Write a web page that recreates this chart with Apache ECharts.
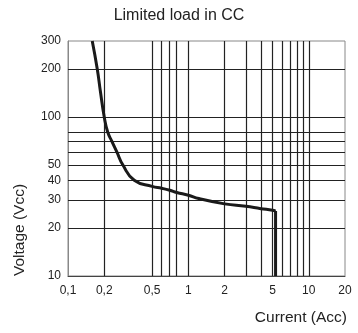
<!DOCTYPE html>
<html>
<head>
<meta charset="utf-8">
<script src="https://cdn.jsdelivr.net/npm/echarts@6/dist/echarts.min.js"></script>
<style>
  html, body { margin: 0; padding: 0; background: #fff; }
  #chart { width: 358px; height: 333px; }
</style>
</head>
<body>
<div id="chart"></div>
<script>
// curve (current in A, voltage in V)
const currentA = [0.159, 0.175, 0.186, 0.2, 0.214, 0.232, 0.255, 0.285, 0.355, 0.5, 0.6, 0.7, 0.8, 1, 1.22, 2, 3, 4, 5, 5.3]
const voltageV = [300, 200, 144, 100, 80, 70, 60, 50, 40, 36.6, 35.6, 34.6, 33.5, 32.2, 30.7, 28.4, 27.4, 26.5, 25.9, 25.6]
// vertical cut-off at the right end
const dropCurrent = [5.3, 5.3]
const dropVoltage = [25.6, 10]

const xTicks = [0.1, 0.2, 0.5, 1, 2, 5, 10, 20]
const yTicks = [10, 20, 30, 40, 50, 100, 200, 300]
const xGrid = [0.2, 0.5, 0.6, 0.7, 0.8, 1, 2, 3, 4, 5, 6, 7, 8, 9, 10]
const yGrid = [20, 30, 40, 50, 60, 70, 80, 100, 200]

const font = 'Liberation Sans, Arial, sans-serif'
const ink = '#222'

const chart = echarts.init(document.getElementById('chart'), null, { renderer: 'canvas' })

const gridLines = xGrid.map(v => ({ xAxis: v })).concat(yGrid.map(v => ({ yAxis: v })))

chart.setOption({
  animation: false,
  title: {
    text: 'Limited load in CC',
    left: 'center',
    top: 3,
    textStyle: { fontFamily: font, fontSize: 16, fontWeight: 'normal', color: ink }
  },
  grid: {
    left: 68,
    right: 13,
    top: 41,
    bottom: 57,
    show: true,
    borderColor: '#888',
    borderWidth: 1
  },
  xAxis: {
    type: 'log',
    logBase: 10,
    min: 0.1,
    max: 20,
    name: 'Current (Acc)',
    nameLocation: 'end',
    nameGap: 2,
    nameTextStyle: {
      fontFamily: font, fontSize: 15.5, color: ink,
      align: 'right', verticalAlign: 'top', padding: [34, 0, 0, 0]
    },
    axisLine: { show: true, lineStyle: { color: '#444', width: 1 } },
    axisTick: { show: false },
    splitLine: { show: false },
    axisLabel: {
      customValues: xTicks,
      margin: 9,
      fontFamily: font,
      fontSize: 12,
      color: ink,
      formatter: v => String(v).replace('.', ',')
    }
  },
  yAxis: {
    type: 'log',
    logBase: 10,
    min: 10,
    max: 300,
    axisLine: { show: true, lineStyle: { color: '#888', width: 1 } },
    axisTick: { show: false },
    splitLine: { show: false },
    axisLabel: {
      customValues: yTicks,
      margin: 7,
      fontFamily: font,
      fontSize: 12,
      color: ink
    }
  },
  graphic: [
    {
      type: 'text',
      x: 20,
      y: 230,
      rotation: Math.PI / 2,
      style: {
        text: 'Voltage (Vcc)',
        fontFamily: font,
        fontSize: 15.5,
        fill: ink,
        align: 'center',
        verticalAlign: 'middle'
      }
    }
  ],
  series: [
    {
      type: 'line',
      data: currentA.map((x, i) => [x, voltageV[i]]),
      smooth: 0.5,
      symbol: 'none',
      lineStyle: { color: '#1a1a1a', width: 3 },
      z: 5,
      markLine: {
        silent: true,
        symbol: ['none', 'none'],
        label: { show: false },
        lineStyle: { color: '#222', width: 1.2, type: 'solid' },
        data: gridLines
      }
    },
    {
      type: 'line',
      data: dropCurrent.map((x, i) => [x, dropVoltage[i]]),
      symbol: 'none',
      lineStyle: { color: '#1a1a1a', width: 3 },
      z: 5
    }
  ]
})
</script>
</body>
</html>
